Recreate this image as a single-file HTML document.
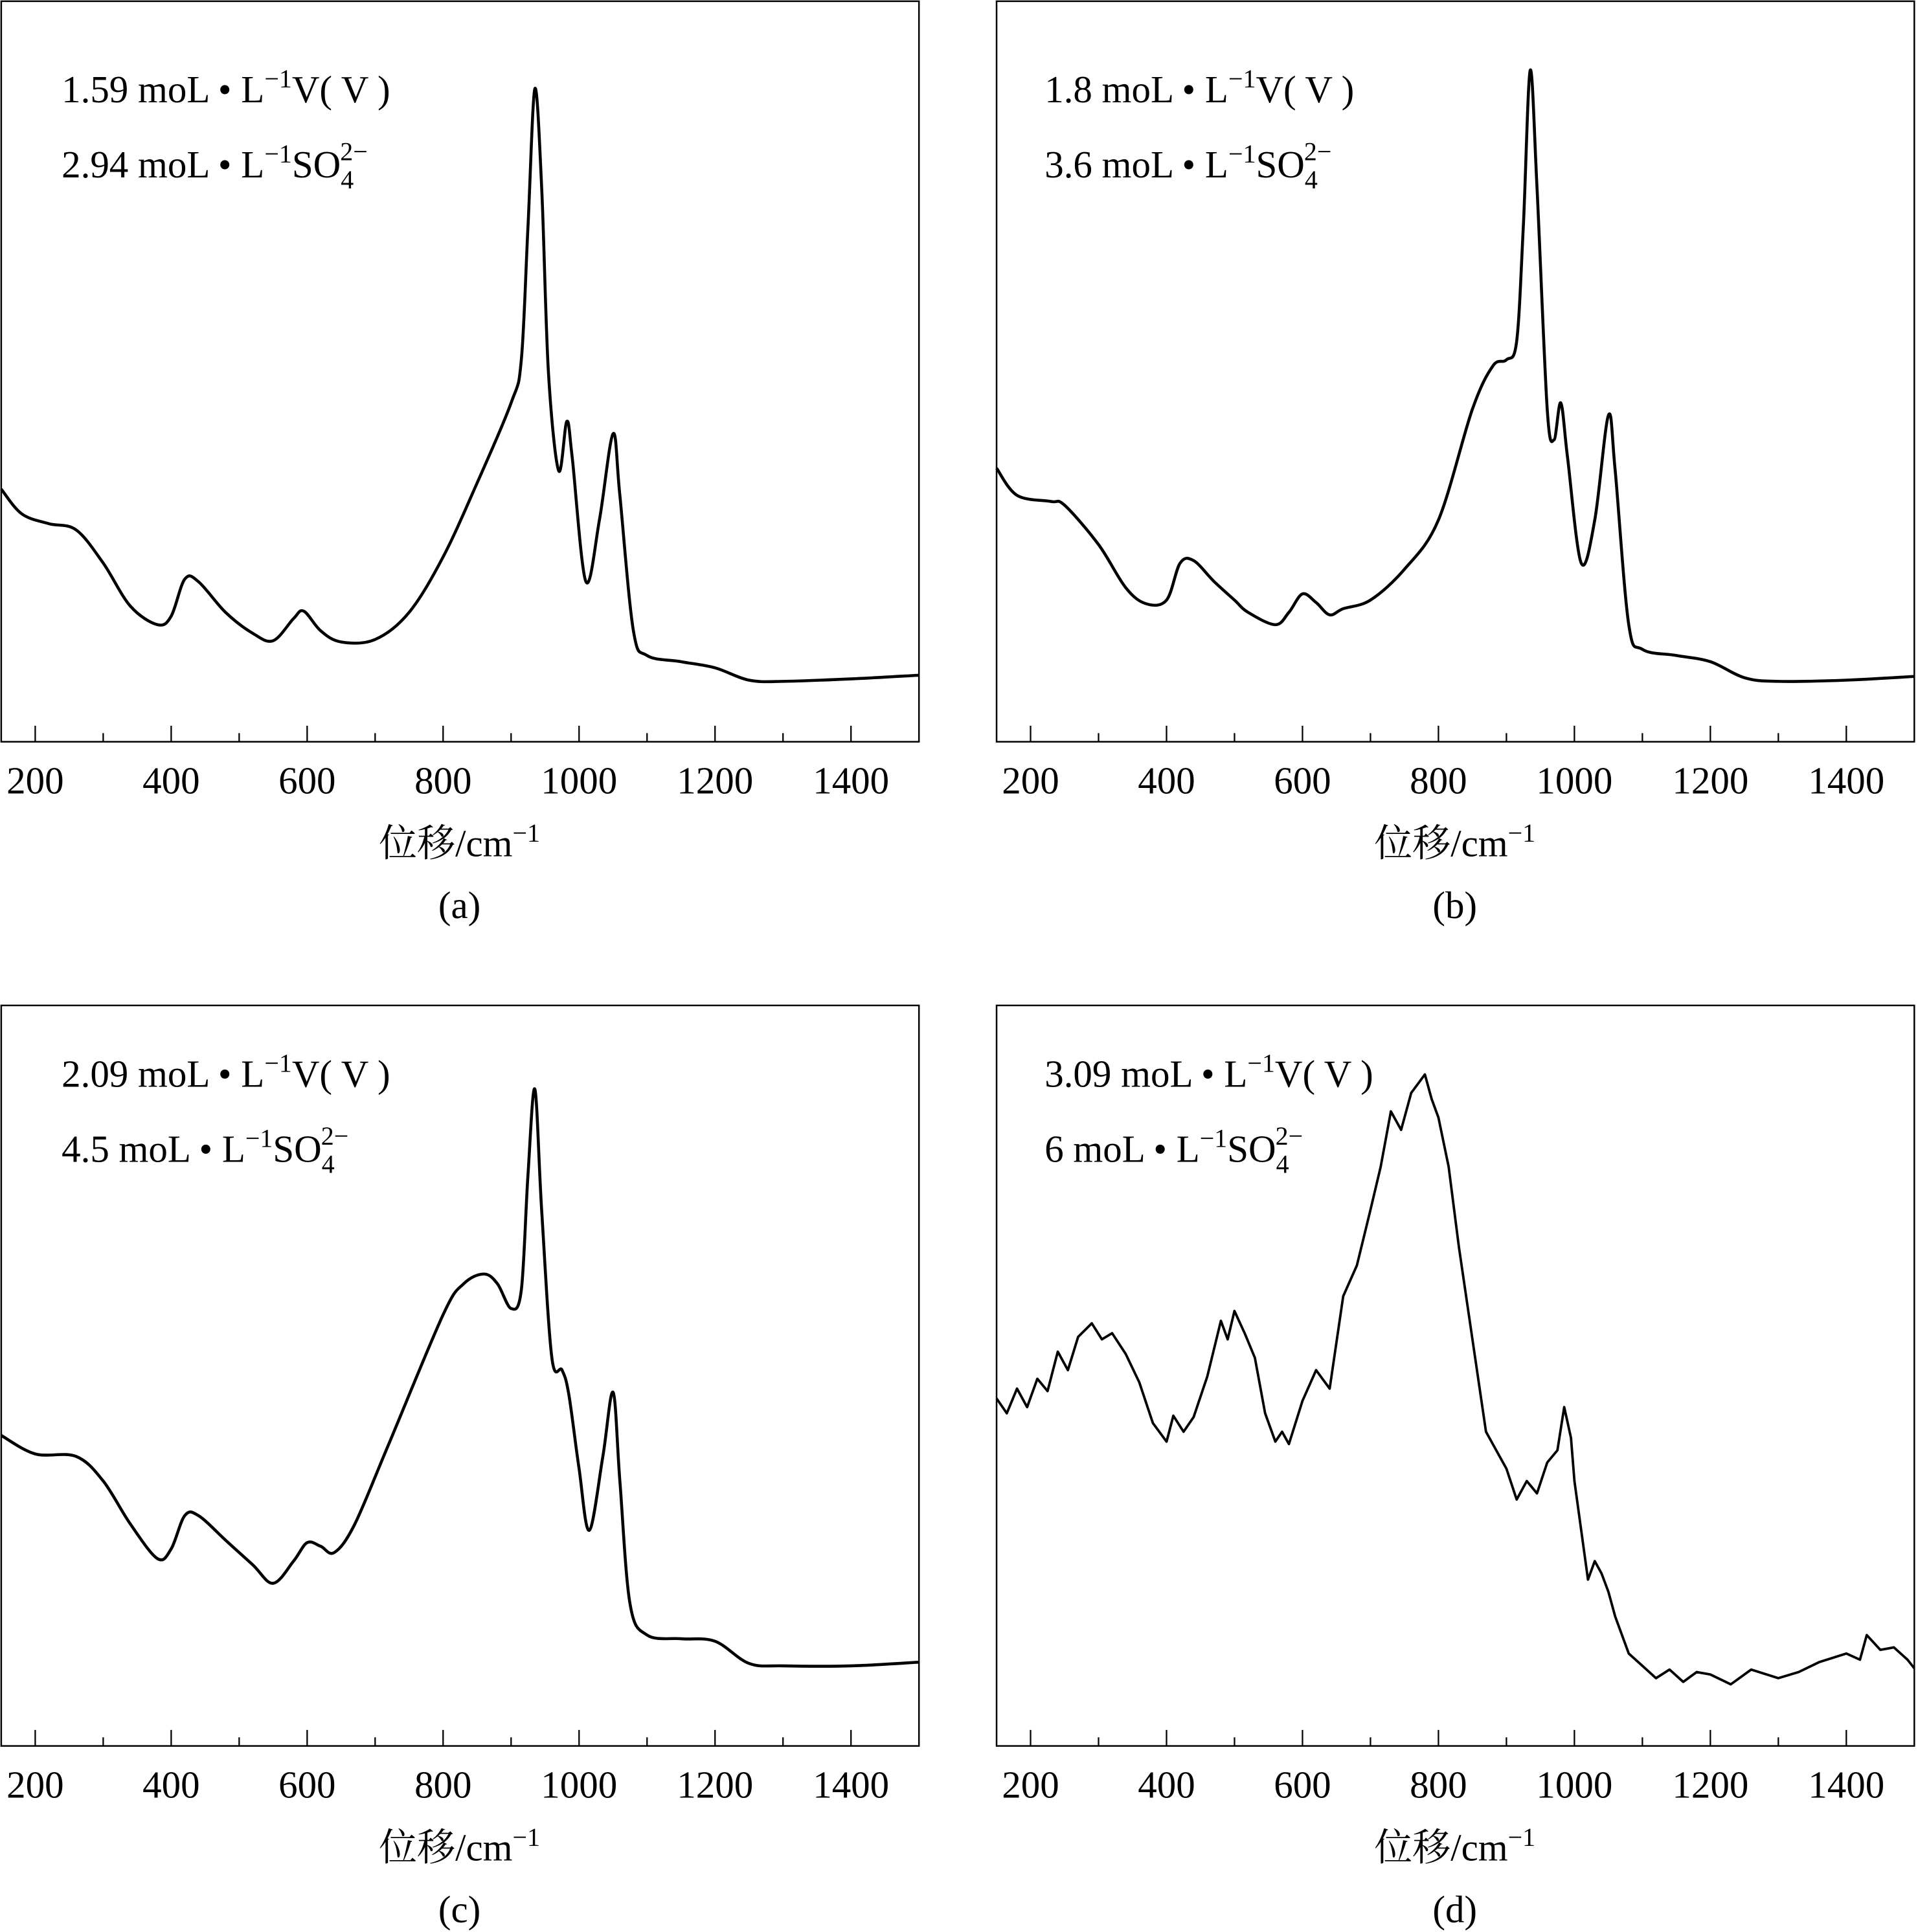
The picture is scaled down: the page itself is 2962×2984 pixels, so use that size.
<!DOCTYPE html>
<html><head><meta charset="utf-8"><style>
html,body{margin:0;padding:0;background:#fff}
svg{display:block}
text{font-family:"Liberation Serif","Noto Serif CJK SC","Noto Sans CJK SC",serif;fill:#000}
</style></head><body>
<svg id="fig" width="2962" height="2984" viewBox="0 0 1557 1568" preserveAspectRatio="none" xmlns="http://www.w3.org/2000/svg"></svg>
<script>
// data (x = Raman shift cm^-1, y = intensity a.u.)
const xA=[150,180,220,260,300,340,380,400,420,440,480,520,550,580,595,620,650,700,750,800,850,900,915,925,935,945,955,970,982,990,1010,1030,1050,1060,1080,1100,1150,1200,1250,1300,1400,1500];
const yA=[205,185,177,172,145,110,95,102,132,130,105,88,82,100,106,90,81,83,105,150,210,275,310,420,530,450,300,220,260,230,130,180,250,200,90,70,65,60,50,49,51,54];
const xB=[150,180,230,250,300,340,370,400,420,440,470,500,520,560,580,600,620,640,660,700,750,800,850,880,900,915,925,935,945,960,970,980,990,1010,1030,1050,1060,1080,1100,1150,1200,1250,1300,1400,1500];
const yB=[222,200,195,192,160,125,112,115,145,147,130,115,105,95,105,120,113,103,108,115,140,180,270,305,310,325,420,545,450,270,245,275,230,145,180,265,220,95,75,70,65,52,49,50,53];
const xC=[150,200,260,300,340,380,400,420,440,480,520,550,580,600,620,640,670,720,800,830,860,880,900,915,925,935,945,960,975,985,1000,1015,1035,1050,1060,1075,1100,1150,1200,1250,1300,1400,1500];
const yC=[252,237,235,215,180,152,160,187,187,167,147,132,150,165,162,157,180,245,350,375,383,375,355,370,465,533,435,315,305,285,225,175,235,287,215,115,90,87,85,67,65,65,68];
const xD=[150,165,180,195,210,225,240,255,270,290,305,320,340,360,380,400,410,425,440,460,480,490,500,515,530,545,560,570,580,600,620,640,660,680,700,715,730,745,760,780,790,800,815,830,850,870,885,900,915,930,945,960,975,985,995,1000,1010,1020,1030,1040,1050,1060,1080,1100,1120,1140,1160,1180,1200,1230,1260,1300,1330,1360,1400,1420,1430,1450,1470,1490,1500];
const yD=[282,270,290,275,298,288,320,305,332,343,330,335,318,295,262,247,268,255,267,300,345,330,353,335,315,270,247,255,245,280,305,290,365,390,435,470,515,500,530,545,525,510,470,405,330,255,240,225,200,215,205,230,240,275,250,215,175,135,150,140,125,105,75,65,55,62,52,60,58,50,62,55,60,68,75,70,90,78,80,70,63];
const ticksMajor=[200,400,600,800,1000,1200,1400];
const ticksMinor=[300,500,700,900,1100,1300];
const panels=[
 {id:'a',x0:1,y0:1,tx:49,ty:82,line1:'1.59 moL • L',l2num:'2.94 moL • L',cap:'(a)',xs:xA,ys:yA,smooth:true},
 {id:'b',x0:809,y0:1,tx:39,ty:82,line1:'1.8 moL • L',l2num:'3.6 moL • L',cap:'(b)',xs:xB,ys:yB,smooth:true},
 {id:'c',x0:1,y0:816,tx:49,ty:66,line1:'2.09 moL • L',l2num:'4.5 moL • L',cap:'(c)',xs:xC,ys:yC,smooth:true},
 {id:'d',x0:809,y0:816,tx:39,ty:66,line1:'3.09 moL • L',l2num:'6 moL • L',cap:'(d)',xs:xD,ys:yD,smooth:false}
];
const NS='http://www.w3.org/2000/svg';
const svg=document.getElementById('fig');
const W=745,H=601,XMIN=150,XMAX=1500,YMAX=601;
function mk(t,a,p){const e=document.createElementNS(NS,t);for(const k in a)e.setAttribute(k,a[k]);(p||svg).appendChild(e);return e;}
function catmull(pts){let d='M'+pts[0][0]+','+pts[0][1];for(let i=0;i<pts.length-1;i++){const p0=pts[Math.max(0,i-1)],p1=pts[i],p2=pts[i+1],p3=pts[Math.min(pts.length-1,i+2)];
 const c1x=p1[0]+(p2[0]-p0[0])/6,c1y=p1[1]+(p2[1]-p0[1])/6,c2x=p2[0]-(p3[0]-p1[0])/6,c2y=p2[1]-(p3[1]-p1[1])/6;
 d+=' C'+c1x.toFixed(1)+','+c1y.toFixed(1)+' '+c2x.toFixed(1)+','+c2y.toFixed(1)+' '+p2[0].toFixed(1)+','+p2[1].toFixed(1);}return d;}
panels.forEach(p=>{
 const g=mk('g',{});
 
 
 const sx=v=>p.x0+(v-XMIN)/(XMAX-XMIN)*W;
 const sy=v=>p.y0+H-v/YMAX*H;
 const fr=mk('rect',{x:p.x0,y:p.y0,width:W,height:H,fill:'none',stroke:'#000','stroke-width':1.3},g);
 
 
 const by=p.y0+H;
 ticksMajor.forEach(t=>{
  const l=mk('line',{x1:sx(t),x2:sx(t),y1:by,y2:by-13,stroke:'#000','stroke-width':1.2},g);
  
  
  const tx=mk('text',{x:sx(t),y:by+42,'text-anchor':'middle','font-size':31},g);tx.textContent=t;
  
  
 });
 ticksMinor.forEach(t=>{
  const l=mk('line',{x1:sx(t),x2:sx(t),y1:by,y2:by-7,stroke:'#000','stroke-width':1.2},g);
  
  
 });
 const pts=p.xs.map((x,i)=>[sx(x),sy(p.ys[i])]);
 let d;
 if(p.smooth)d=catmull(pts);else d='M'+pts.map(q=>q[0].toFixed(1)+','+q[1].toFixed(1)).join(' L');
 const path=mk('path',{d:d,fill:'none',stroke:'#000','stroke-width':p.smooth?2.4:2,'stroke-linejoin':'round'},g);
 
 
 const t1=mk('text',{x:p.x0+p.tx,y:p.y0+p.ty,'font-size':31},g);
 
 
 t1.innerHTML=p.line1+'<tspan dy="-12" font-size="21">−1</tspan><tspan dy="12">V( V )</tspan>';
 const t2=mk('text',{x:p.x0+p.tx,y:p.y0+p.ty+61,'font-size':31},g);
 
 
 t2.innerHTML=p.l2num+'<tspan dy="-12" font-size="21">−1</tspan><tspan dy="12">SO</tspan><tspan dy="9" font-size="21">4</tspan><tspan dx="-11" dy="-23" font-size="21">2−</tspan>';
 const xl=mk('text',{x:p.x0+372,y:p.y0+694,'text-anchor':'middle','font-size':31},g);
 
 
 xl.innerHTML='位移/cm<tspan dy="-12" font-size="21">−1</tspan>';
 const cp=mk('text',{x:p.x0+372,y:p.y0+744,'text-anchor':'middle','font-size':31},g);
 cp.textContent=p.cap;
 
 
});
</script>
</body></html>
